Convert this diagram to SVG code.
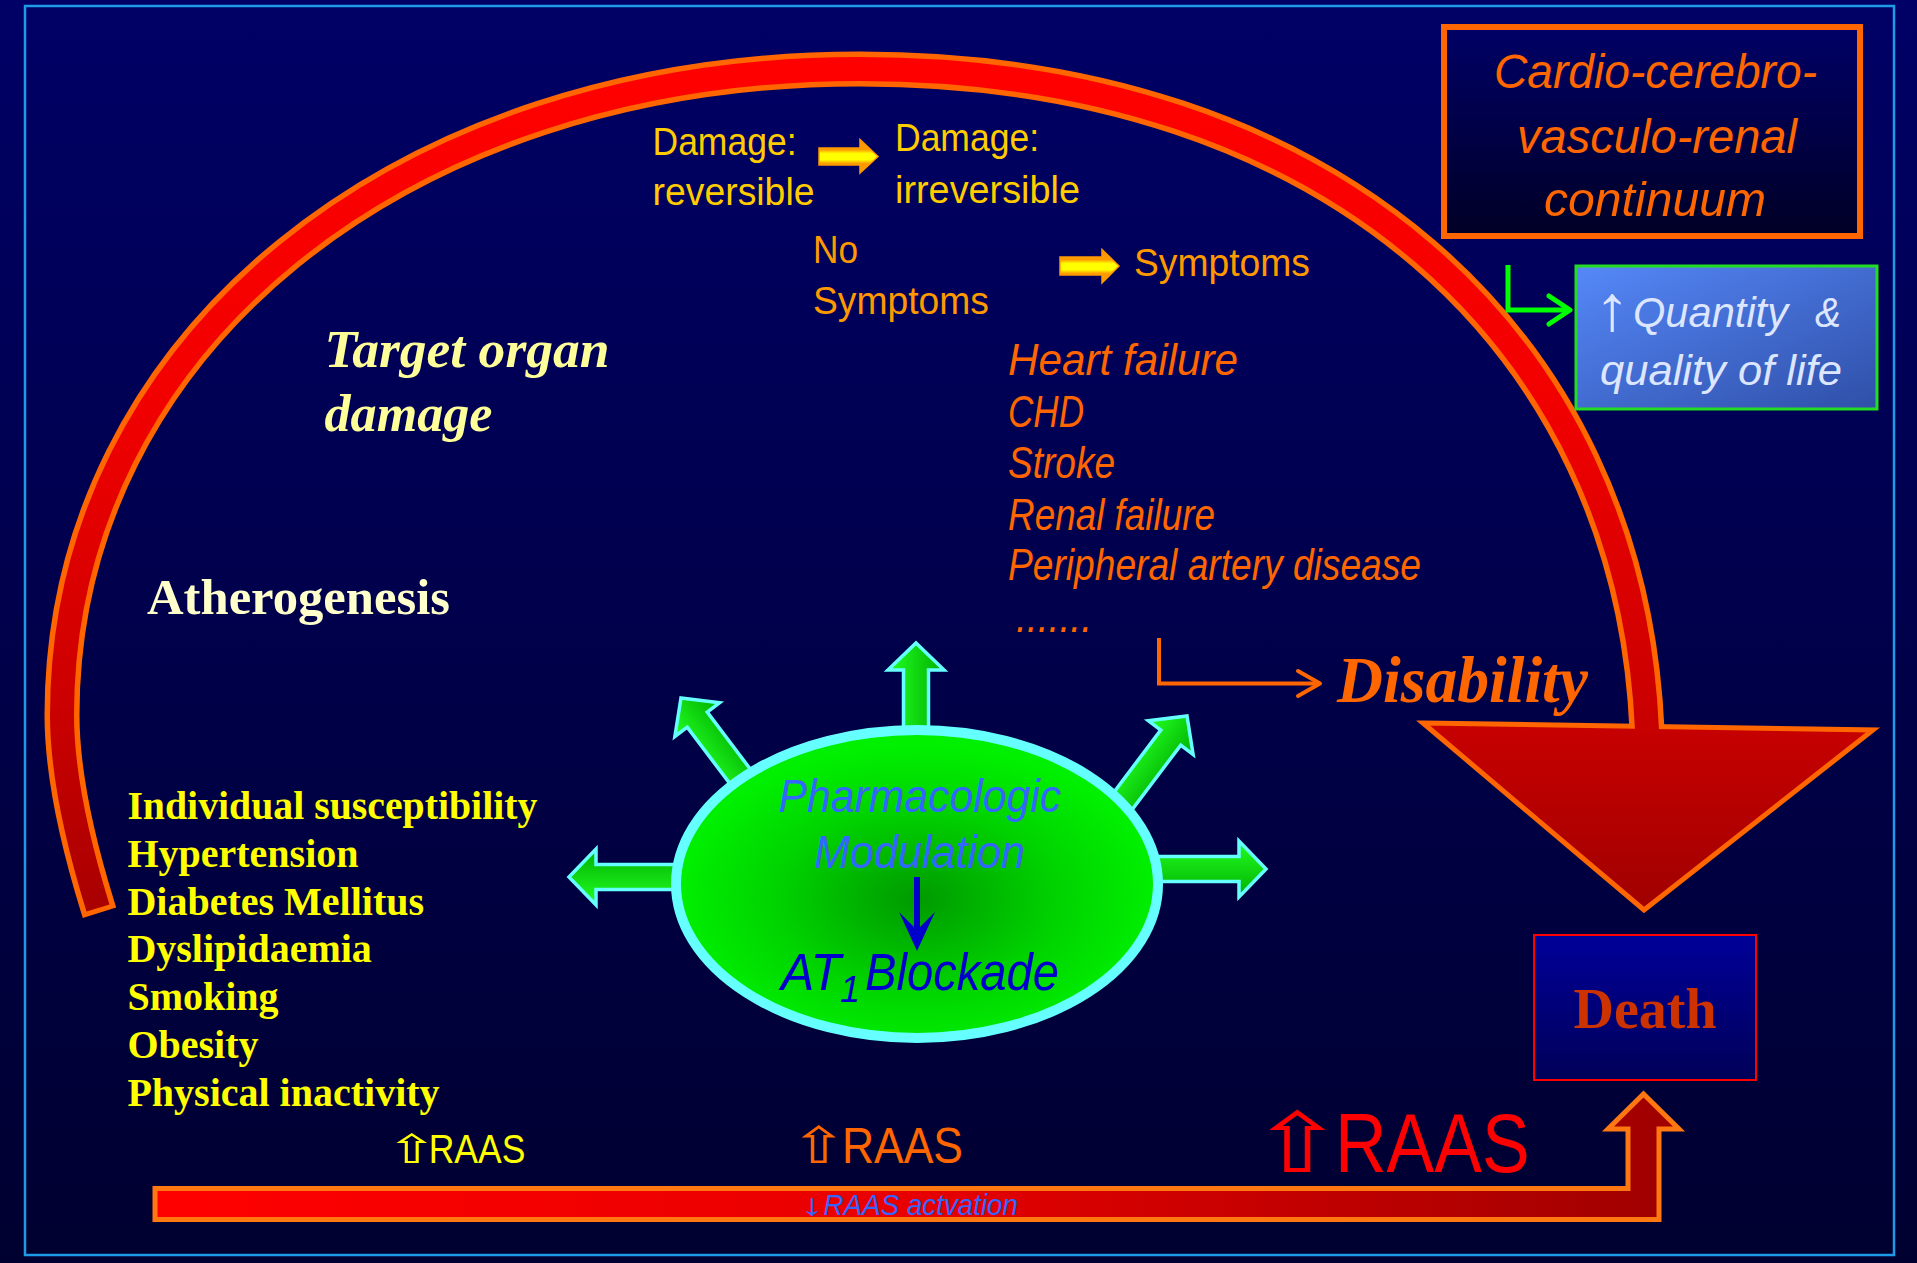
<svg xmlns="http://www.w3.org/2000/svg" xmlns:xlink="http://www.w3.org/1999/xlink" width="1917" height="1263" viewBox="0 0 1917 1263">
<defs>
<style>
.sans{font-family:"Liberation Sans","DejaVu Sans",Arial,sans-serif}
.serif{font-family:"Liberation Serif","Times New Roman",serif}
.it{font-style:italic}
.b{font-weight:bold}
.dmg{fill:#FFCC00;font-size:39px}
.sym{fill:#FF9900;font-size:39px}
.lst{fill:#FF6600;font-size:45px}
.risk{fill:#FFFF00;font-size:40px}
.garrow{fill:url(#gArrow);stroke:#66FFFF;stroke-width:3.5;stroke-linejoin:miter}
.yarrow{fill:url(#gYArrow);stroke:#FF9900;stroke-width:1.5}
</style>
<linearGradient id="gBg" x1="0" y1="0" x2="0" y2="1">
<stop offset="0" stop-color="#000066"/>
<stop offset="1" stop-color="#000030"/>
</linearGradient>
<linearGradient id="gBand" gradientUnits="userSpaceOnUse" x1="0" y1="55" x2="0" y2="915">
<stop offset="0" stop-color="#FF0000"/>
<stop offset="0.4" stop-color="#F20000"/>
<stop offset="0.75" stop-color="#CC0000"/>
<stop offset="1" stop-color="#A80000"/>
</linearGradient>
<linearGradient id="gTri" x1="0" y1="0" x2="0" y2="1">
<stop offset="0" stop-color="#C80000"/>
<stop offset="1" stop-color="#A00000"/>
</linearGradient>
<linearGradient id="gBar" gradientUnits="userSpaceOnUse" x1="155" y1="0" x2="1661" y2="0">
<stop offset="0" stop-color="#FF0000"/>
<stop offset="0.5" stop-color="#E80000"/>
<stop offset="1" stop-color="#A00000"/>
</linearGradient>
<linearGradient id="gCardio" x1="0" y1="0" x2="0" y2="1">
<stop offset="0" stop-color="#000066"/>
<stop offset="1" stop-color="#000026"/>
</linearGradient>
<linearGradient id="gQty" x1="0" y1="0" x2="1" y2="1">
<stop offset="0" stop-color="#5588F8"/>
<stop offset="1" stop-color="#2F4FA8"/>
</linearGradient>
<linearGradient id="gDeath" x1="0" y1="0" x2="0" y2="1">
<stop offset="0" stop-color="#000099"/>
<stop offset="1" stop-color="#000058"/>
</linearGradient>
<radialGradient id="gEll" cx="0.5" cy="0.55" r="0.5">
<stop offset="0" stop-color="#009A00"/>
<stop offset="0.6" stop-color="#00D400"/>
<stop offset="1" stop-color="#00F000"/>
</radialGradient>
<linearGradient id="gArrow" x1="0" y1="0" x2="1" y2="0">
<stop offset="0" stop-color="#22FF22"/>
<stop offset="1" stop-color="#00B000"/>
</linearGradient>
<linearGradient id="gYArrow" x1="0" y1="0" x2="0" y2="1">
<stop offset="0" stop-color="#FF9900"/>
<stop offset="0.3" stop-color="#FF9900"/>
<stop offset="0.42" stop-color="#FFFF00"/>
<stop offset="0.6" stop-color="#FFFF00"/>
<stop offset="0.72" stop-color="#FF9900"/>
<stop offset="1" stop-color="#FF9900"/>
</linearGradient>
<path id="garrowShape" d="M0,0 L28,27 L12.5,27 L12.5,125 L-12.5,125 L-12.5,27 L-28,27 Z"/>
</defs>

<rect x="0" y="0" width="1917" height="1263" fill="url(#gBg)"/>
<rect x="25" y="6" width="1869" height="1249" fill="none" stroke="#1E9BE6" stroke-width="2.5"/>

<g id="continuum-arc">
<path d="M 99.5 912.8 L 98 908 C 80 850 62 780 62 715 C 62 345 400 69 860 69 C 1330 69 1630 340 1647 730" fill="none" stroke="#FF6600" stroke-width="35"/>
<polygon points="1423,723 1873,730 1644,910" fill="url(#gTri)" stroke="#FF6600" stroke-width="5"/>
<path d="M 98 908 C 80 850 62 780 62 715 C 62 345 400 69 860 69 C 1330 69 1630 340 1647 730 L 1647.5 740" fill="none" stroke="url(#gBand)" stroke-width="24"/>
</g>

<g id="raas-arrow">
<polygon points="155,1188.5 1628,1188.5 1628,1129 1608,1129 1643.5,1094 1679,1129 1659,1129 1659,1219.5 155,1219.5" fill="url(#gBar)" stroke="#FF7711" stroke-width="5"/>
</g>

<g id="connectors">
<polyline points="1508,265 1508,310 1568,310" fill="none" stroke="#00FF00" stroke-width="5"/>
<polyline points="1549,296 1570,310 1549,324" fill="none" stroke="#00FF00" stroke-width="5" stroke-linecap="round" stroke-linejoin="round"/>
<polyline points="1159,638 1159,683.5 1319,683.5" fill="none" stroke="#FF6600" stroke-width="4"/>
<polyline points="1298,671 1320,683.5 1298,696" fill="none" stroke="#FF6600" stroke-width="4" stroke-linecap="round" stroke-linejoin="round"/>
<polygon class="yarrow" points="819,148 860,148 860,139.5 878,156.5 860,173 860,165 819,165"/>
<polygon class="yarrow" points="1060,257 1102,257 1102,249.5 1119,266 1102,283 1102,275 1060,275"/>
<use xlink:href="#garrowShape" class="garrow" transform="translate(916,643)"/>
<use xlink:href="#garrowShape" class="garrow" transform="translate(569,877) rotate(-90)"/>
<use xlink:href="#garrowShape" class="garrow" transform="translate(1266,869) rotate(90)"/>
<use xlink:href="#garrowShape" class="garrow" transform="translate(681,698) rotate(-37)"/>
<use xlink:href="#garrowShape" class="garrow" transform="translate(1187,716) rotate(37)"/>
</g>

<g id="cardio-box">
<rect x="1444" y="27" width="416" height="209" fill="url(#gCardio)" stroke="#FF6600" stroke-width="6"/>
<text class="sans it" fill="#FF6600" font-size="48" x="1494" y="88" textLength="323" lengthAdjust="spacingAndGlyphs">Cardio-cerebro-</text>
<text class="sans it" fill="#FF6600" font-size="48" x="1517" y="153" textLength="280" lengthAdjust="spacingAndGlyphs">vasculo-renal</text>
<text class="sans it" fill="#FF6600" font-size="48" x="1544" y="216" textLength="222" lengthAdjust="spacingAndGlyphs">continuum</text>
</g>

<g id="quality-box">
<rect x="1576" y="266" width="301" height="143" fill="url(#gQty)" stroke="#22DD22" stroke-width="3"/>
<text class="sans" fill="#DDE6FF" font-size="43" y="327"><tspan x="1594" y="330" font-size="64" textLength="36" lengthAdjust="spacingAndGlyphs">↑</tspan><tspan class="it" x="1633" y="327" textLength="155" lengthAdjust="spacingAndGlyphs">Quantity</tspan><tspan class="it" x="1815" textLength="26" lengthAdjust="spacingAndGlyphs">&amp;</tspan></text>
<text class="sans it" fill="#DDE6FF" font-size="43" x="1600" y="385" textLength="242" lengthAdjust="spacingAndGlyphs">quality of life</text>
</g>

<g id="damage-stages">
<text class="sans dmg" x="652.5" y="155.4" textLength="144" lengthAdjust="spacingAndGlyphs">Damage:</text>
<text class="sans dmg" x="652.5" y="205.4" textLength="162" lengthAdjust="spacingAndGlyphs">reversible</text>
<text class="sans dmg" x="895" y="151" textLength="144" lengthAdjust="spacingAndGlyphs">Damage:</text>
<text class="sans dmg" x="895" y="203" textLength="185" lengthAdjust="spacingAndGlyphs">irreversible</text>
</g>

<g id="symptoms">
<text class="sans sym" x="813" y="262.5" textLength="45" lengthAdjust="spacingAndGlyphs">No</text>
<text class="sans sym" x="813" y="314" textLength="176" lengthAdjust="spacingAndGlyphs">Symptoms</text>
<text class="sans sym" x="1134" y="276" textLength="176" lengthAdjust="spacingAndGlyphs">Symptoms</text>
</g>

<g id="outcomes">
<text class="sans it lst" x="1008" y="375" textLength="230" lengthAdjust="spacingAndGlyphs">Heart failure</text>
<text class="sans it lst" x="1008" y="427" textLength="76" lengthAdjust="spacingAndGlyphs">CHD</text>
<text class="sans it lst" x="1008" y="478" textLength="107" lengthAdjust="spacingAndGlyphs">Stroke</text>
<text class="sans it lst" x="1008" y="530" textLength="207" lengthAdjust="spacingAndGlyphs">Renal failure</text>
<text class="sans it lst" x="1008" y="580" textLength="413" lengthAdjust="spacingAndGlyphs">Peripheral artery disease</text>
<text class="sans it lst" x="1016" y="632" textLength="76" lengthAdjust="spacingAndGlyphs">.......</text>
</g>

<g id="target-organ">
<text class="serif b it" fill="#FFFF99" font-size="52" x="324.5" y="367" textLength="285" lengthAdjust="spacingAndGlyphs">Target organ</text>
<text class="serif b it" fill="#FFFF99" font-size="52" x="324.5" y="430.6" textLength="168" lengthAdjust="spacingAndGlyphs">damage</text>
</g>

<g id="atherogenesis">
<text class="serif b" fill="#FFFFCC" font-size="51" x="147" y="614" textLength="303" lengthAdjust="spacingAndGlyphs">Atherogenesis</text>
</g>

<g id="risk-factors">
<text class="serif b risk" x="127.4" y="819" textLength="410" lengthAdjust="spacingAndGlyphs">Individual susceptibility</text>
<text class="serif b risk" x="127.4" y="866.8">Hypertension</text>
<text class="serif b risk" x="127.4" y="914.6">Diabetes Mellitus</text>
<text class="serif b risk" x="127.4" y="962.4">Dyslipidaemia</text>
<text class="serif b risk" x="127.4" y="1010.2">Smoking</text>
<text class="serif b risk" x="127.4" y="1058">Obesity</text>
<text class="serif b risk" x="127.4" y="1105.8">Physical inactivity</text>
</g>

<g id="disability">
<text class="serif b it" fill="#FF6600" font-size="65" x="1337" y="702" textLength="251" lengthAdjust="spacingAndGlyphs">Disability</text>
</g>

<g id="pharmacologic-modulation">
<ellipse cx="917" cy="884" rx="241" ry="154" fill="url(#gEll)" stroke="#66FFFF" stroke-width="10"/>
<text class="sans it" fill="#3366FF" font-size="46" x="778.5" y="811.7" textLength="282.5" lengthAdjust="spacingAndGlyphs">Pharmacologic</text>
<text class="sans it" fill="#3366FF" font-size="46" x="814" y="868.3" textLength="211" lengthAdjust="spacingAndGlyphs">Modulation</text>
<line x1="917" y1="877" x2="917" y2="932" stroke="#0000CC" stroke-width="6"/>
<polygon points="899,912 917,930 935,912 917,951" fill="#0000CC"/>
<text class="sans it" fill="#0000CC" font-size="51" y="990"><tspan x="781" textLength="60" lengthAdjust="spacingAndGlyphs">AT</tspan><tspan x="840" y="1001.7" font-size="36">1</tspan><tspan x="865" y="990" textLength="194" lengthAdjust="spacingAndGlyphs">Blockade</tspan></text>
</g>

<g id="death">
<rect x="1534" y="935" width="222" height="145" fill="url(#gDeath)" stroke="#FF0000" stroke-width="2"/>
<text class="serif b" fill="#CC3300" font-size="56" x="1645" y="1028" text-anchor="middle">Death</text>
</g>

<g id="raas-labels">
<text class="sans" fill="#FFFF00" font-size="40" y="1163"><tspan x="386" textLength="52" lengthAdjust="spacingAndGlyphs">⇧</tspan><tspan x="428.7" textLength="96.7" lengthAdjust="spacingAndGlyphs">RAAS</tspan></text>
<text class="sans" fill="#FF6600" font-size="50" y="1163"><tspan x="790" textLength="58" lengthAdjust="spacingAndGlyphs">⇧</tspan><tspan x="842" textLength="121" lengthAdjust="spacingAndGlyphs">RAAS</tspan></text>
<text class="sans" fill="#FF0000" font-size="83" y="1171.5"><tspan x="1250" textLength="95" lengthAdjust="spacingAndGlyphs">⇧</tspan><tspan x="1335" textLength="194.6" lengthAdjust="spacingAndGlyphs">RAAS</tspan></text>
<text class="sans" fill="#3366FF" font-size="30" y="1214.5"><tspan x="800" textLength="24" lengthAdjust="spacingAndGlyphs">↓</tspan><tspan class="it" x="823.6" textLength="194.4" lengthAdjust="spacingAndGlyphs">RAAS actvation</tspan></text>
</g>
</svg>
